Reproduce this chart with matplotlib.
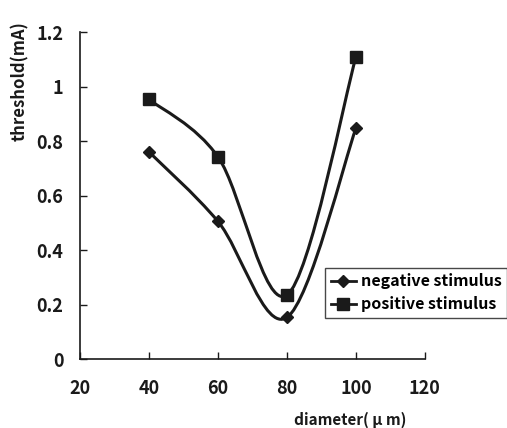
import matplotlib
matplotlib.use("Agg")
import matplotlib.pyplot as plt
from matplotlib.path import Path
from matplotlib.patches import PathPatch
from matplotlib.lines import Line2D

# ─── Data ────────────────────────────────────────────────────────────────────
diameter = [40, 60, 80, 100]
negative = [0.76, 0.505, 0.153, 0.847]
positive = [0.953, 0.742, 0.235, 1.108]

x_ticks = [20, 40, 60, 80, 100, 120]
y_ticks = [0, 0.2, 0.4, 0.6, 0.8, 1.0, 1.2]
y_tick_labels = ["0", "0.2", "0.4", "0.6", "0.8", "1", "1.2"]

plt.rcParams['font.family'] = ['Noto Sans CJK JP', 'DejaVu Sans']
INK = '#1a1a1a'


def smooth_path(xs, ys):
    # Excel-style smoothed line: cubic Bezier through the points
    pts = list(zip(xs, ys))
    verts = [pts[0]]
    codes = [Path.MOVETO]
    n = len(pts)
    for i in range(n - 1):
        p0 = pts[i - 1] if i > 0 else pts[i]
        p1 = pts[i]
        p2 = pts[i + 1]
        p3 = pts[i + 2] if i + 2 < n else pts[i + 1]
        c1 = (p1[0] + (p2[0] - p0[0]) / 6, p1[1] + (p2[1] - p0[1]) / 6)
        c2 = (p2[0] - (p3[0] - p1[0]) / 6, p2[1] - (p3[1] - p1[1]) / 6)
        verts += [c1, c2, p2]
        codes += [Path.CURVE4] * 3
    return Path(verts, codes)


# ─── Figure ──────────────────────────────────────────────────────────────────
fig = plt.figure(figsize=(5.07, 4.28), dpi=100)
ax = fig.add_axes([0.158, 0.161, 0.68, 0.764])

for ys in (negative, positive):
    ax.add_patch(PathPatch(smooth_path(diameter, ys), facecolor='none',
                           edgecolor=INK, lw=2.2, capstyle='round'))

ax.plot(diameter, negative, ls='none', marker='D', ms=6.5, color=INK)
ax.plot(diameter, positive, ls='none', marker='s', ms=8, color=INK)

ax.set_xlim(20, 120)
ax.set_ylim(0, 1.2)
ax.set_xticks(x_ticks)
ax.set_yticks(y_ticks)
ax.set_yticklabels(y_tick_labels)
ax.tick_params(direction='in', length=5, width=1, colors=INK, labelsize=13)
ax.yaxis.set_tick_params(pad=12)
ax.xaxis.set_tick_params(pad=14)
for lab in ax.get_xticklabels() + ax.get_yticklabels():
    lab.set_fontweight('bold')

for s in ('top', 'right'):
    ax.spines[s].set_visible(False)
for s in ('left', 'bottom'):
    ax.spines[s].set_linewidth(1.2)
    ax.spines[s].set_color(INK)

fig.text(0.04, 0.81, "threshold(mA)", rotation=90, ha='center', va='center',
         fontsize=12, fontweight='bold', color=INK)
fig.text(0.69, 0.02, "diameter( μ m)", ha='center', va='center',
         fontsize=11, fontweight='bold', color=INK)

handles = [
    Line2D([], [], color=INK, lw=2, marker='D', ms=6.5),
    Line2D([], [], color=INK, lw=2, marker='s', ms=8),
]
leg = fig.legend(handles, ["negative stimulus", "positive stimulus"],
                 loc='lower left', bbox_to_anchor=(0.641, 0.257),
                 frameon=True, fancybox=False, edgecolor=INK,
                 fontsize=11.5, handlelength=1.6, handletextpad=0.3,
                 borderpad=0.35, labelspacing=0.45, borderaxespad=0)
leg.get_frame().set_linewidth(1.0)
for t in leg.get_texts():
    t.set_fontweight('bold')

fig.savefig("out.png", dpi=100)
